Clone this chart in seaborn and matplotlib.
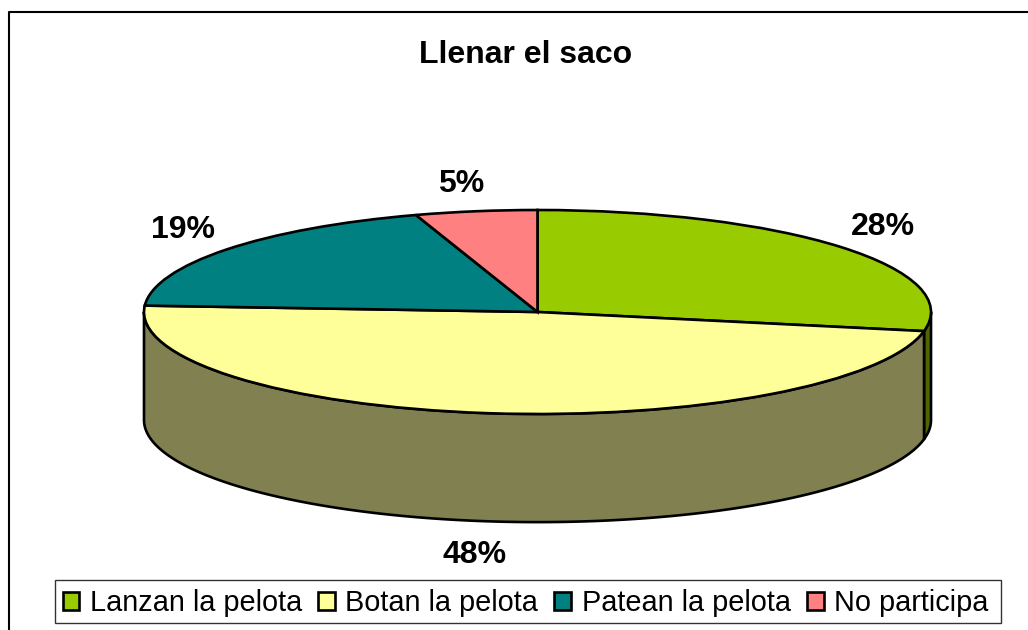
import numpy as np
import matplotlib
matplotlib.use('Agg')
import matplotlib.pyplot as plt
from matplotlib.lines import Line2D
from matplotlib.patches import Rectangle
import seaborn as sns

categories = ['Lanzan la pelota', 'Botan la pelota', 'Patean la pelota', 'No participa']
values = [28, 48, 19, 5]
top_colors = ['#99CC00', '#FFFF99', '#008080', '#FF8080']
side_colors = ['#4D6600', '#808050', '#004040', '#804040']

W, H = 1028, 630
depth = 1.06  # wall height, in units of the squashed radius
line_w = 1.9

sns.set_theme(style='white')
plt.rcParams['font.family'] = ['Liberation Sans', 'DejaVu Sans']

fig = plt.figure(figsize=(W / 100, H / 100), dpi=100, facecolor='white')
# the axes box is the bounding box of the top ellipse
ax = fig.add_axes([144 / W, 1 - 414 / H, 787 / W, 204 / H])

fractions = np.array(values) / sum(values)
edges = np.concatenate([[0], np.cumsum(fractions)]) * 360

# side wall, only the part of each slice that faces front
for i in range(len(values)):
    a0 = max(edges[i], 90)
    a1 = min(edges[i + 1], 270)
    if a1 <= a0:
        continue
    t = np.radians(np.linspace(a0, a1, 200))
    xs = np.sin(t)
    ys = np.cos(t)
    ax.fill(np.r_[xs, xs[::-1]], np.r_[ys, ys[::-1] - depth],
            facecolor=side_colors[i], edgecolor='black', linewidth=line_w,
            joinstyle='round', clip_on=False, zorder=1)

wedges, _ = ax.pie(values, colors=sns.color_palette(top_colors), startangle=90,
                   counterclock=False, radius=1,
                   wedgeprops={'edgecolor': 'black', 'linewidth': line_w, 'zorder': 2, 'clip_on': False})
ax.set_aspect('auto')
ax.set_xlim(-1, 1)
ax.set_ylim(-1, 1)
ax.axis('off')

# percent labels sit outside the rim, the front one below the wall
for i, v in enumerate(values):
    mid = np.radians((edges[i] + edges[i + 1]) / 2)
    lx = 1.115 * np.sin(mid) + 0.02 * np.sign(np.sin(mid))
    ly = 1.2 * np.cos(mid) + 0.07
    if np.cos(mid) < 0:
        ly -= depth + 0.2
    ax.text(lx, ly, str(v) + '%', ha='center', va='center', fontsize=23,
            fontweight='bold', color='black', clip_on=False)

fig.text(525.5 / W, 1 - 55 / H, 'Llenar el saco', ha='center', va='center',
         fontsize=23, fontweight='bold', color='black')

# legend box drawn by hand so its height can be tighter than the text padding
fig.add_artist(Rectangle((54.5 / W, 1 - 622.5 / H), 946 / W, 43 / H,
                         transform=fig.transFigure, facecolor='white',
                         edgecolor='#333333', linewidth=1))
leg = fig.legend(wedges, categories, ncol=4, loc='center',
                 bbox_to_anchor=(525.5 / W, 1 - 603 / H), fontsize=20.8,
                 handlelength=0.58, handleheight=0.58, handletextpad=0.36,
                 columnspacing=0.56, borderpad=0, borderaxespad=0,
                 frameon=False, labelcolor='black')
for h in leg.get_patches():
    h.set_linewidth(line_w)

# outer chart border, cropped at the right and bottom of the image
fig.add_artist(Line2D([8.5 / W, 8.5 / W, 1], [0, 1 - 12 / H, 1 - 12 / H],
                      transform=fig.transFigure, color='black', linewidth=1.5))

fig.savefig('out.png', dpi=100, facecolor='white')
